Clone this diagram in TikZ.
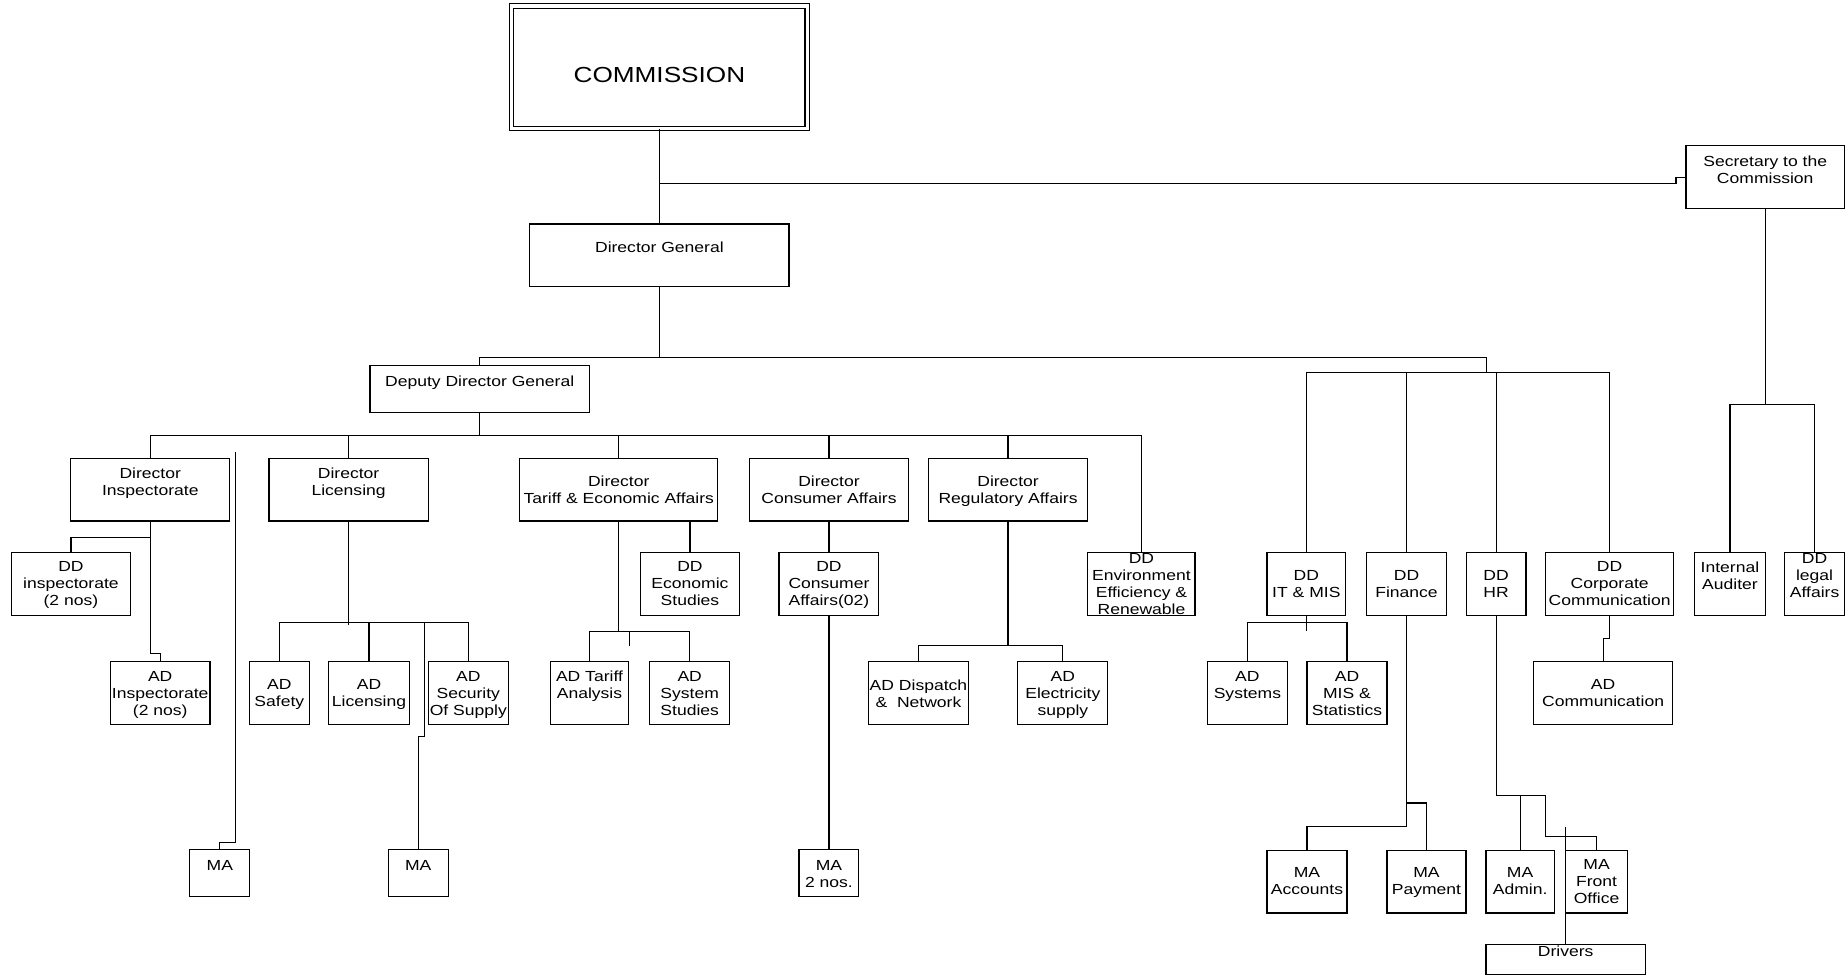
\documentclass[tikz,border=0pt]{standalone}
\usepackage{fontspec}
\setmainfont{Liberation Sans}[FakeStretch=1.2]

\begin{document}
\begin{tikzpicture}[x=1pt,y=-1pt,line width=1pt,
  box/.style 2 args={draw,rectangle,inner sep=0pt,outer sep=0pt,minimum width=#1pt,minimum height=#2pt},
  txt/.style={font=\fontsize{12.4}{14.5}\selectfont,align=center,inner sep=0pt},
  lbl/.style 2 args={label={[txt,anchor=north,yshift=-#1pt]north:{#2}}}]
  \useasboundingbox (0,0) rectangle (1568,829);
  % top of the chart
  \node[box={250.5}{104.1},double,double distance=2.6pt,line width=.9pt,
        label={[txt,font=\fontsize{18.5}{22}\selectfont,anchor=north,yshift=-51.1pt]north:COMMISSION}] (comm) at (559.5,57.15) {};
  \node[box={134.5}{53.2},lbl={7.9}{Secretary to the\\Commission}] (sec) at (1497.75,150.3) {};
  \node[box={220}{53.4},lbl={14.6}{Director General}] (dg) at (559.5,216.7) {};
  \node[box={186}{40},lbl={8.6}{Deputy Director General}] (ddg) at (407,330) {};
  % directors
  \node[box={135}{53},lbl={7.6}{Director\\Inspectorate}] (dinsp) at (127.5,415.5) {};
  \node[box={135}{53},lbl={7.6}{Director\\Licensing}] (dlic) at (295.8,415.5) {};
  \node[box={168}{53},lbl={14}{Director\\Tariff \& Economic Affairs}] (dtar) at (525,415.5) {};
  \node[box={135.3}{53},lbl={14}{Director\\Consumer Affairs}] (dcons) at (703.35,415.5) {};
  \node[box={135.4}{53},lbl={14}{Director\\Regulatory Affairs}] (dreg) at (855.3,415.5) {};
  % deputy directors
  \node[box={101.2}{53.4},lbl={7.4}{DD\\inspectorate\\(2 nos)}] (ddinsp) at (60.2,495.3) {};
  \node[box={84.6}{53.4},lbl={7.4}{DD\\Economic\\Studies}] (ddeco) at (585.4,495.3) {};
  \node[box={84.7}{53.4},lbl={7.4}{DD\\Consumer\\Affairs(02)}] (ddcons) at (703.35,495.3) {};
  \node[box={91}{53.4},lbl={0.6}{DD\\Environment\\Efficiency \&\\Renewable}] (ddenv) at (968.5,495.3) {};
  \node[box={66.8}{53.4},lbl={15}{DD\\IT \& MIS}] (ddit) at (1108.4,495.3) {};
  \node[box={67.8}{53.4},lbl={15}{DD\\Finance}] (ddfin) at (1193.4,495.3) {};
  \node[box={50.8}{53.4},lbl={15}{DD\\HR}] (ddhr) at (1269.4,495.3) {};
  \node[box={108.5}{53.4},lbl={7.4}{DD\\Corporate\\Communication}] (ddcorp) at (1365.75,495.3) {};
  \node[box={59.7}{53.4},lbl={7.4}{Internal\\Auditer}] (intaud) at (1467.85,495.3) {};
  \node[box={50.7}{53.4},lbl={0.6}{DD\\legal\\Affairs}] (ddlegal) at (1539.65,495.3) {};
  % assistant directors
  \node[box={84.5}{53.5},lbl={7.5}{AD\\Inspectorate\\(2 nos)}] (adinsp) at (135.95,588.25) {};
  \node[box={50.8}{53.5},lbl={14.7}{AD\\Safety}] (adsafe) at (237,588.25) {};
  \node[box={68.2}{53.5},lbl={14.7}{AD\\Licensing}] (adlic) at (313.1,588.25) {};
  \node[box={68.1}{53.5},lbl={7.5}{AD\\Security\\Of Supply}] (adsec) at (397.35,588.25) {};
  \node[box={66.1}{53.5},lbl={7.5}{AD Tariff\\Analysis}] (adtar) at (500.15,588.25) {};
  \node[box={67.6}{53.5},lbl={7.5}{AD\\System\\Studies}] (adsys) at (585.2,588.25) {};
  \node[box={84.6}{53.5},lbl={14.7}{AD Dispatch\\\&\ \ Network}] (addisp) at (779.3,588.25) {};
  \node[box={76.4}{53.5},lbl={7.5}{AD\\Electricity\\supply}] (adelec) at (901.8,588.25) {};
  \node[box={67.8}{53.5},lbl={7.5}{AD\\Systems}] (adsystems) at (1058.4,588.25) {};
  \node[box={67.8}{53.5},lbl={7.5}{AD\\MIS \&\\Statistics}] (admis) at (1142.9,588.25) {};
  \node[box={118.4}{53.5},lbl={14.7}{AD\\Communication}] (adcomm) at (1360.2,588.25) {};
  % management assistants
  \node[box={51}{40},lbl={8.6}{MA}] (ma1) at (186.5,741) {};
  \node[box={50.8}{40},lbl={8.6}{MA}] (ma2) at (354.9,741) {};
  \node[box={50.7}{40},lbl={8.6}{MA\\2 nos.}] (ma3) at (703.35,741) {};
  \node[box={67.9}{53.1},lbl={14.1}{MA\\Accounts}] (maacc) at (1108.95,748.05) {};
  \node[box={67.1}{53.1},lbl={14.1}{MA\\Payment}] (mapay) at (1210.35,748.05) {};
  \node[box={57.8}{53.1},lbl={14.1}{MA\\Admin.}] (maadm) at (1289.8,748.05) {};
  \node[box={52.3}{53.1},lbl={7.3}{MA\\Front\\Office}] (mafront) at (1354.65,748.05) {};
  \node[box={135.1}{25.8},lbl={1.2}{Drivers}] (drivers) at (1328.45,814.1) {};

  % connectors
  \coordinate (j1) at (559.5,155.4);
  \coordinate (j2) at (559.5,303);
  \coordinate (j3) at (1261,316.4);
  \coordinate (j4) at (407,369.6);
  \coordinate (j5) at (295.8,528.2);
  \coordinate (j6) at (525,535.6);
  \coordinate (j7) at (855.3,547.8);
  \coordinate (j8) at (1108.4,528.2);
  \coordinate (j9) at (1269.4,674.8);
  \coordinate (j10) at (1497.75,343.3);
  \coordinate (m1) at (199.5,383.5);
  \draw (comm) -- (dg);
  \draw (j1) -- ++(862.5,0) |- (sec.west);
  \draw (dg) -- (j2);
  \draw (ddg.north) |- (j3 |- j2) -- (j3);
  \draw (ddit.north) |- (ddcorp.north |- j3) -- (ddcorp.north);
  \foreach \n in {ddfin,ddhr} \draw (\n.north) -- (\n.north |- j3);
  \draw (ddg) -- (j4);
  \draw (dinsp.north) |- (ddenv.north |- j4) -- (ddenv.north);
  \foreach \n in {dlic,dtar,dcons,dreg} \draw (\n.north) -- (\n.north |- j4);
  % inspectorate
  \draw (dinsp.south) -- ++(0,14) -| (ddinsp.north);
  \draw (dinsp.south) -- ++(0,112.7) -| (adinsp.north);
  \draw (m1) -- ++(0,331.2) -| (ma1.north);
  % licensing
  \draw (dlic.south) -- ++(0,88.3);
  \draw (adsafe.north) |- (adsec.north |- j5) -- (adsec.north);
  \draw (adlic.north) -- (adlic.north |- j5);
  \draw ([xshift=64.5pt]j5) -- ++(0,96.8) -| (ma2.north);
  % tariff
  \draw (dtar.south) -- (j6);
  \draw (adtar.north) |- (adsys.north |- j6) -- (adsys.north);
  \draw ([xshift=9.4pt]j6) -- ++(0,12.8);
  \draw (ddeco.north) -- (ddeco.north |- dtar.south);
  % consumer and regulatory
  \draw (dcons) -- (ddcons);
  \draw (ddcons) -- (ma3);
  \draw (dreg.south) -- (j7);
  \draw (addisp.north) |- (adelec.north |- j7) -- (adelec.north);
  % IT, finance, HR, communication
  \draw (ddit.south) -- ++(0,13.4);
  \draw (adsystems.north) |- (admis.north |- j8) -- (admis.north);
  \draw (ddfin.south) -- ++(0,179.4) -| (maacc.north);
  \draw (ddfin.south) -- ++(0,159.4) -| (mapay.north);
  \draw (ddhr.south) -- (j9) -- ++(42.1,0) -- ++(0,35.2) -| (mafront.north);
  \draw (maadm.north) -- (maadm.north |- j9);
  \draw (drivers.north) -- ++(0,-99.8);
  \draw (ddcorp.south) -- ++(0,19.6) -| (adcomm.north);
  % secretary
  \draw (sec.south) -- (j10);
  \draw (intaud.north) |- (ddlegal.north |- j10) -- (ddlegal.north);
\end{tikzpicture}
\end{document}
